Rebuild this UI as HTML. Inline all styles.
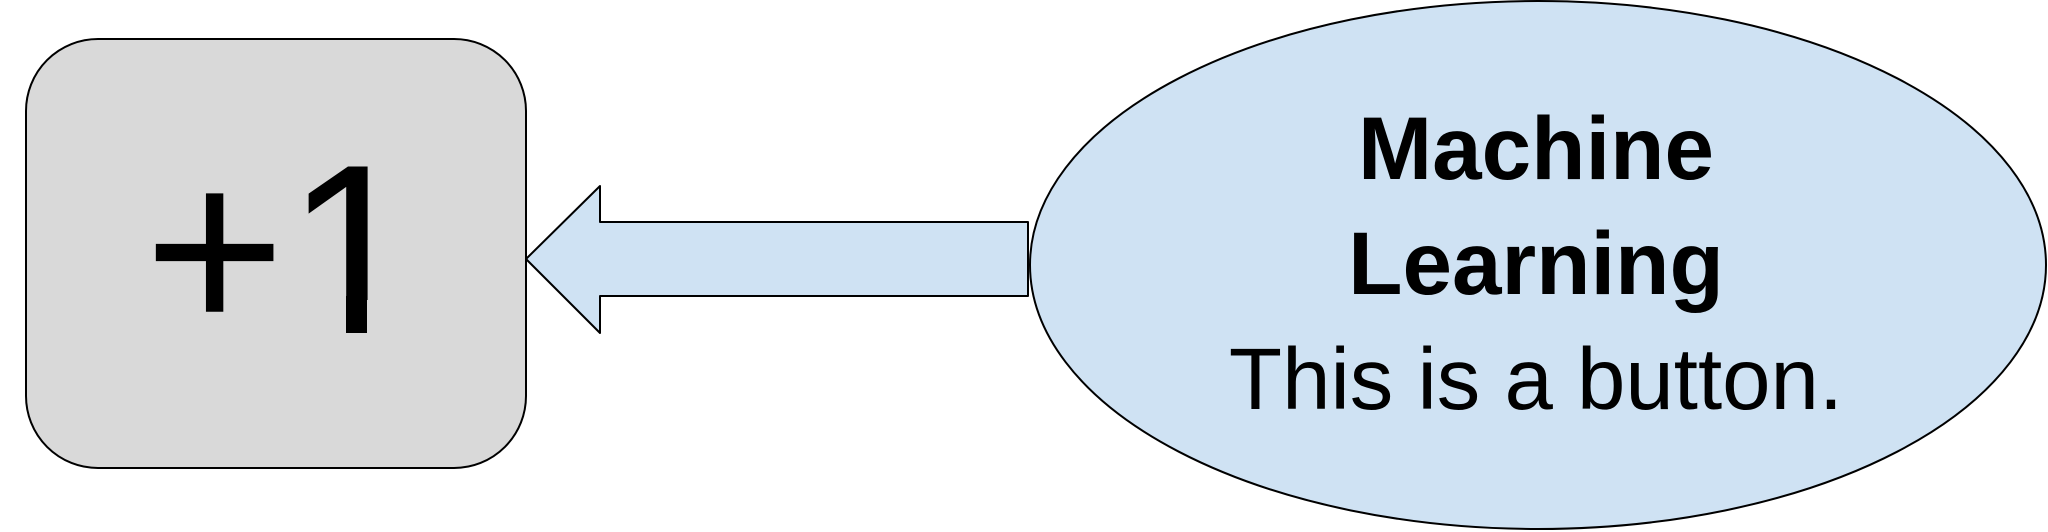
<!DOCTYPE html>
<html><head><meta charset="utf-8"><style>
html,body{margin:0;padding:0;background:#fff;}
svg{display:block;}
</style></head><body>
<svg width="2048" height="532" viewBox="0 0 2048 532" xmlns="http://www.w3.org/2000/svg">
<rect x="26" y="39" width="500" height="429" rx="72" ry="72" fill="#d9d9d9" stroke="#000" stroke-width="2"/>
<text x="282" y="333" font-family="Liberation Sans, sans-serif" font-size="242" text-anchor="middle" fill="#000">+1</text>
<rect x="298" y="300" width="116" height="40" fill="#d9d9d9"/>
<rect x="346" y="296" width="21" height="37" fill="#000"/>
<polygon points="526,259 600,186 600,222 1028,222 1028,296 600,296 600,333" fill="#cfe2f3" stroke="#000" stroke-width="2" stroke-linejoin="round"/>
<ellipse cx="1538" cy="265" rx="508" ry="264" fill="#cfe2f3" stroke="#000" stroke-width="2"/>
<text x="1536" y="179" font-family="Liberation Sans, sans-serif" font-size="89" font-weight="bold" text-anchor="middle" fill="#000">Machine</text>
<text x="1536" y="294" font-family="Liberation Sans, sans-serif" font-size="89" font-weight="bold" text-anchor="middle" fill="#000">Learning</text>
<text x="1536" y="409" font-family="Liberation Sans, sans-serif" font-size="87" text-anchor="middle" fill="#000">This is a button.</text>
</svg>
</body></html>
